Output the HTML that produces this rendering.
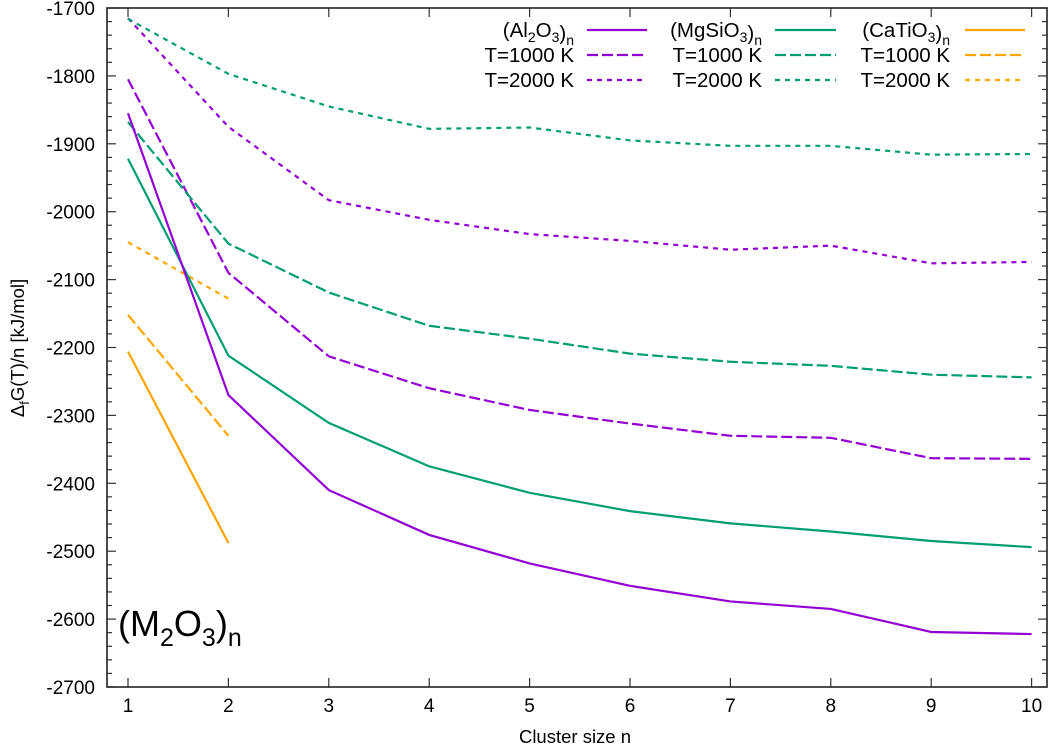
<!DOCTYPE html>
<html><head><meta charset="utf-8"><style>
body{margin:0;background:#fff}
svg{display:block;font-family:"Liberation Sans",Arial,sans-serif}
</style></head><body>
<svg id="c" width="1052" height="748" viewBox="0 0 1052 748"></svg>
<script>
const nValues=[1,2,3,4,5,6,7,8,9,10];
const al0=[-1855,-2270,-2410,-2476,-2518,-2551,-2574,-2585,-2619,-2622];
const al1000=[-1805,-2090,-2213,-2260,-2292,-2312,-2330,-2333,-2363,-2364];
const al2000=[-1715,-1875,-1983,-2012,-2033,-2043,-2056,-2050,-2076,-2074];
const mg0=[-1922,-2212,-2311,-2375,-2414,-2441,-2459,-2471,-2485,-2494];
const mg1000=[-1868,-2047,-2119,-2168,-2187,-2209,-2221,-2227,-2240,-2244];
const mg2000=[-1716,-1797,-1845,-1878,-1876,-1895,-1903,-1903,-1916,-1915];
const ca0=[-2206,-2488];
const ca1000=[-2152,-2330];
const ca2000=[-2045,-2128];
const yTicks=[-1700,-1800,-1900,-2000,-2100,-2200,-2300,-2400,-2500,-2600,-2700];
const xTicks=[1,2,3,4,5,6,7,8,9,10];

const L=107,R=1047,T=8,B=687;
const X=n=>128+(n-1)*100.4;
const Y=v=>T+(-1700-v)/1000*(B-T);
const svg=document.getElementById('c');
const NS='http://www.w3.org/2000/svg';
function mk(tag,attrs,parent){const e=document.createElementNS(NS,tag);for(const k in attrs)e.setAttribute(k,attrs[k]);(parent||svg).appendChild(e);return e;}

const PUR='#9400d3',GRN='#009e73',ORG='#ffa500';
const D1='11,4',D2='5,5';

for(let v=-1700;v>=-2700;v-=20){
  const y=Y(v);const major=(v%100===0);const len=major?9:5;
  let t=mk('line',{x1:L,x2:L+len,y1:y,y2:y,stroke:'#333','stroke-width':1.2});
  
  t=mk('line',{x1:R,x2:R-len,y1:y,y2:y,stroke:'#333','stroke-width':1.2});
  
}
yTicks.forEach(v=>{
  const t=mk('text',{x:L-12,y:Y(v)+7,'text-anchor':'end','font-size':19,fill:'#000'});
  t.textContent=v;
  
});
xTicks.forEach(n=>{
  const x=X(n);
  let t=mk('line',{x1:x,x2:x,y1:B,y2:B-9,stroke:'#333','stroke-width':1.2});
  
  t=mk('line',{x1:x,x2:x,y1:T,y2:T+9,stroke:'#333','stroke-width':1.2});
  
  const lb=mk('text',{x:x,y:B+25,'text-anchor':'middle','font-size':19,fill:'#000'});
  lb.textContent=n;
  
});

function series(vals,color,dash,name){
  const pts=vals.map((v,i)=>X(nValues[i])+','+Y(v)).join(' ');
  const p=mk('polyline',{points:pts,fill:'none',stroke:color,'stroke-width':2.2,'stroke-dasharray':dash||'none'});
  
  
}
series(al2000,PUR,D2,'series-al2o3-2000k');
series(mg2000,GRN,D2,'series-mgsio3-2000k');
series(ca2000,ORG,D2,'series-catio3-2000k');
series(al1000,PUR,D1,'series-al2o3-1000k');
series(mg1000,GRN,D1,'series-mgsio3-1000k');
series(ca1000,ORG,D1,'series-catio3-1000k');
series(mg0,GRN,null,'series-mgsio3');
series(al0,PUR,null,'series-al2o3');
series(ca0,ORG,null,'series-catio3');

const fr=mk('rect',{x:L,y:T,width:R-L,height:B-T,fill:'none',stroke:'#222','stroke-width':1.6});


svg.insertAdjacentHTML('beforeend',`
<g font-size="20.5" fill="#000">
 <text x="574" y="37" text-anchor="end">(Al<tspan font-size="14" dy="5">2</tspan><tspan dy="-5">O</tspan><tspan font-size="14" dy="5">3</tspan><tspan dy="-2">)</tspan><tspan font-size="14" dy="5">n</tspan></text>
 <line x1="587" x2="647" y1="30" y2="30" stroke="#9400d3" stroke-width="2.2"/>
 <text x="574" y="62" text-anchor="end">T=1000 K</text>
 <line x1="587" x2="647" y1="55" y2="55" stroke="#9400d3" stroke-width="2.2" stroke-dasharray="11,4"/>
 <text x="574" y="87" text-anchor="end">T=2000 K</text>
 <line x1="587" x2="647" y1="80" y2="80" stroke="#9400d3" stroke-width="2.2" stroke-dasharray="5,5"/>

 <text x="762" y="37" text-anchor="end">(MgSiO<tspan font-size="14" dy="5">3</tspan><tspan dy="-2">)</tspan><tspan font-size="14" dy="5">n</tspan></text>
 <line x1="775" x2="836" y1="30" y2="30" stroke="#009e73" stroke-width="2.2"/>
 <text x="762" y="62" text-anchor="end">T=1000 K</text>
 <line x1="775" x2="836" y1="55" y2="55" stroke="#009e73" stroke-width="2.2" stroke-dasharray="11,4"/>
 <text x="762" y="87" text-anchor="end">T=2000 K</text>
 <line x1="775" x2="836" y1="80" y2="80" stroke="#009e73" stroke-width="2.2" stroke-dasharray="5,5"/>

 <text x="950" y="37" text-anchor="end">(CaTiO<tspan font-size="14" dy="5">3</tspan><tspan dy="-2">)</tspan><tspan font-size="14" dy="5">n</tspan></text>
 <line x1="965" x2="1025" y1="30" y2="30" stroke="#ffa500" stroke-width="2.2"/>
 <text x="950" y="62" text-anchor="end">T=1000 K</text>
 <line x1="965" x2="1025" y1="55" y2="55" stroke="#ffa500" stroke-width="2.2" stroke-dasharray="11,4"/>
 <text x="950" y="87" text-anchor="end">T=2000 K</text>
 <line x1="965" x2="1025" y1="80" y2="80" stroke="#ffa500" stroke-width="2.2" stroke-dasharray="5,5"/>
</g>
<text x="118" y="636" font-size="36" fill="#000">(M<tspan font-size="25" dy="10">2</tspan><tspan dy="-10">O</tspan><tspan font-size="25" dy="10">3</tspan><tspan dy="-10">)</tspan><tspan font-size="25" dy="10">n</tspan></text>
<text x="575" y="743" text-anchor="middle" font-size="18.5" fill="#000">Cluster size n</text>
<text transform="translate(24,348) rotate(-90)" text-anchor="middle" font-size="18.5" fill="#000">Δ<tspan font-size="13" dy="5">f</tspan><tspan dy="-5">G(T)/n  [kJ/mol]</tspan></text>
`);
</script>
</body></html>
